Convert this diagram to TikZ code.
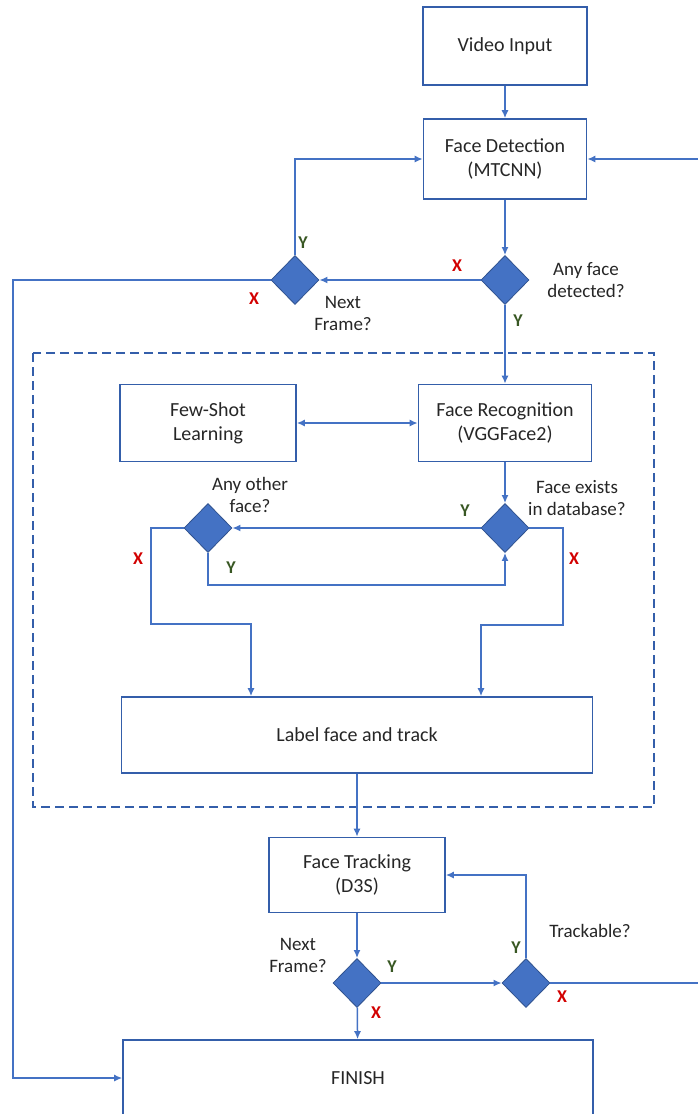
\documentclass[tikz,border=0pt]{standalone}
\usepackage{fontspec}
\setmainfont{Carlito}
\usetikzlibrary{positioning}
\usetikzlibrary{arrows.meta}
\usetikzlibrary{shapes.geometric}
\definecolor{flowline}{RGB}{68,114,196}
\definecolor{boxline}{RGB}{52,94,170}
\definecolor{diafill}{RGB}{68,114,196}
\definecolor{diaedge}{RGB}{47,82,143}
\definecolor{yesgreen}{RGB}{56,87,35}
\definecolor{nored}{RGB}{210,0,0}

\begin{document}
\begin{tikzpicture}
  [x=1pt, y=-1pt,
   every node/.style={font=\fontsize{20}{24}\selectfont, text=black!85, inner sep=0pt},
   stepbox/.style={rectangle, draw=boxline, line width=1.6pt, align=center},
   decision/.style={diamond, draw=diaedge, fill=diafill, line width=0.8pt, minimum width=48pt, minimum height=49pt},
   note/.style={align=center, font=\fontsize{19}{22}\selectfont},
   yes/.style={text=yesgreen, font=\fontsize{18}{18}\selectfont\bfseries},
   no/.style={text=nored, font=\fontsize{18}{18}\selectfont\bfseries},
   conn/.style={->, >={Latex[length=8pt,width=7pt]}, draw=flowline, line width=1.5pt}]
  \useasboundingbox (0,0) rectangle (698,1114);

  \node (video) [stepbox, minimum width=164pt, minimum height=78pt] at (505,46) {Video Input};
  \node (detect) [stepbox, minimum width=163pt, minimum height=80pt] at (505,159) {Face Detection\\(MTCNN)};
  \node (anyface) [decision] at (505,280) {};
  \node (nextA) [decision] at (295,280) {};
  \node (fewshot) [stepbox, minimum width=176pt, minimum height=77pt] at (208,423) {Few-Shot\\Learning};
  \node (recog) [stepbox, minimum width=173pt, minimum height=77pt] at (505,423) {Face Recognition\\(VGGFace2)};
  \node (exists) [decision] at (505,528) {};
  \node (other) [decision] at (208,528) {};
  \node (labelbox) [stepbox, minimum width=471pt, minimum height=76pt] at (357,735) {Label face and track};
  \node (track) [stepbox, minimum width=176pt, minimum height=75pt] at (357,875) {Face Tracking\\(D3S)};
  \node (nextB) [decision] at (357,983) {};
  \node (trackq) [decision] at (526,983) {};
  \node (finish) [stepbox, minimum width=470pt, minimum height=76pt] at (358,1078) {FINISH};

  \node (anyfacetxt) [note] at (586,280) {Any face\\detected?};
  \node (nextAtxt) [note] at (343,313) {Next\\Frame?};
  \node (existstxt) [note] at (577,498) {Face exists\\in database?};
  \node (othertxt) [note] at (250,495) {Any other\\face?};
  \node (nextBtxt) [note] at (298,955) {Next\\Frame?};
  \node (trackqtxt) [note] at (590,931) {Trackable?};

  \node (yA) [yes] at (303,243) {Y};
  \node (xA) [no] at (254,299) {X};
  \node (xB) [no] at (457,266) {X};
  \node (yB) [yes] at (518,321) {Y};
  \node (yC) [yes] at (465,511) {Y};
  \node (xC) [no] at (574,559) {X};
  \node (xD) [no] at (138,559) {X};
  \node (yD) [yes] at (231,568) {Y};
  \node (yE) [yes] at (392,967) {Y};
  \node (xE) [no] at (376,1013) {X};
  \node (yF) [yes] at (516,948) {Y};
  \node (xF) [no] at (562,997) {X};

  \draw [draw=boxline, line width=1.5pt, dash pattern=on 9pt off 5pt] (33,353) rectangle (654,807);

  \coordinate (lbend) at (13,1078);
  \coordinate (rbend) at (700,159);
  \coordinate (otherbend) at (151,624);
  \coordinate (existsbend) at (563,625);

  \draw [conn] (video) -- (detect);
  \draw [conn] (detect) -- (anyface);
  \draw [conn] (anyface) -- (nextA);
  \draw [conn] (nextA.north) |- (detect.west);
  \draw [conn] (nextA.west) -| (lbend) -- (finish.west);
  \draw [conn] (anyface) -- (recog);
  \draw [conn, <->] (fewshot) -- (recog);
  \draw [conn] (recog) -- (exists);
  \draw [conn] (exists) -- (other);
  \draw [conn] (other.south) -- ++(0,32) -| (exists.south);
  \draw [conn] (other.west) -| (otherbend) -| ([xshift=-106pt]labelbox.north);
  \draw [conn] (exists.east) -| (existsbend) -| ([xshift=124pt]labelbox.north);
  \draw [conn] (labelbox) -- (track);
  \draw [conn] (track) -- (nextB);
  \draw [conn] (nextB) -- (trackq);
  \draw [conn] (trackq.north) |- (track.east);
  \draw [conn] (nextB) -- (finish);
  \draw [conn] (trackq.east) -| (rbend) -- (detect.east);
\end{tikzpicture}
\end{document}
